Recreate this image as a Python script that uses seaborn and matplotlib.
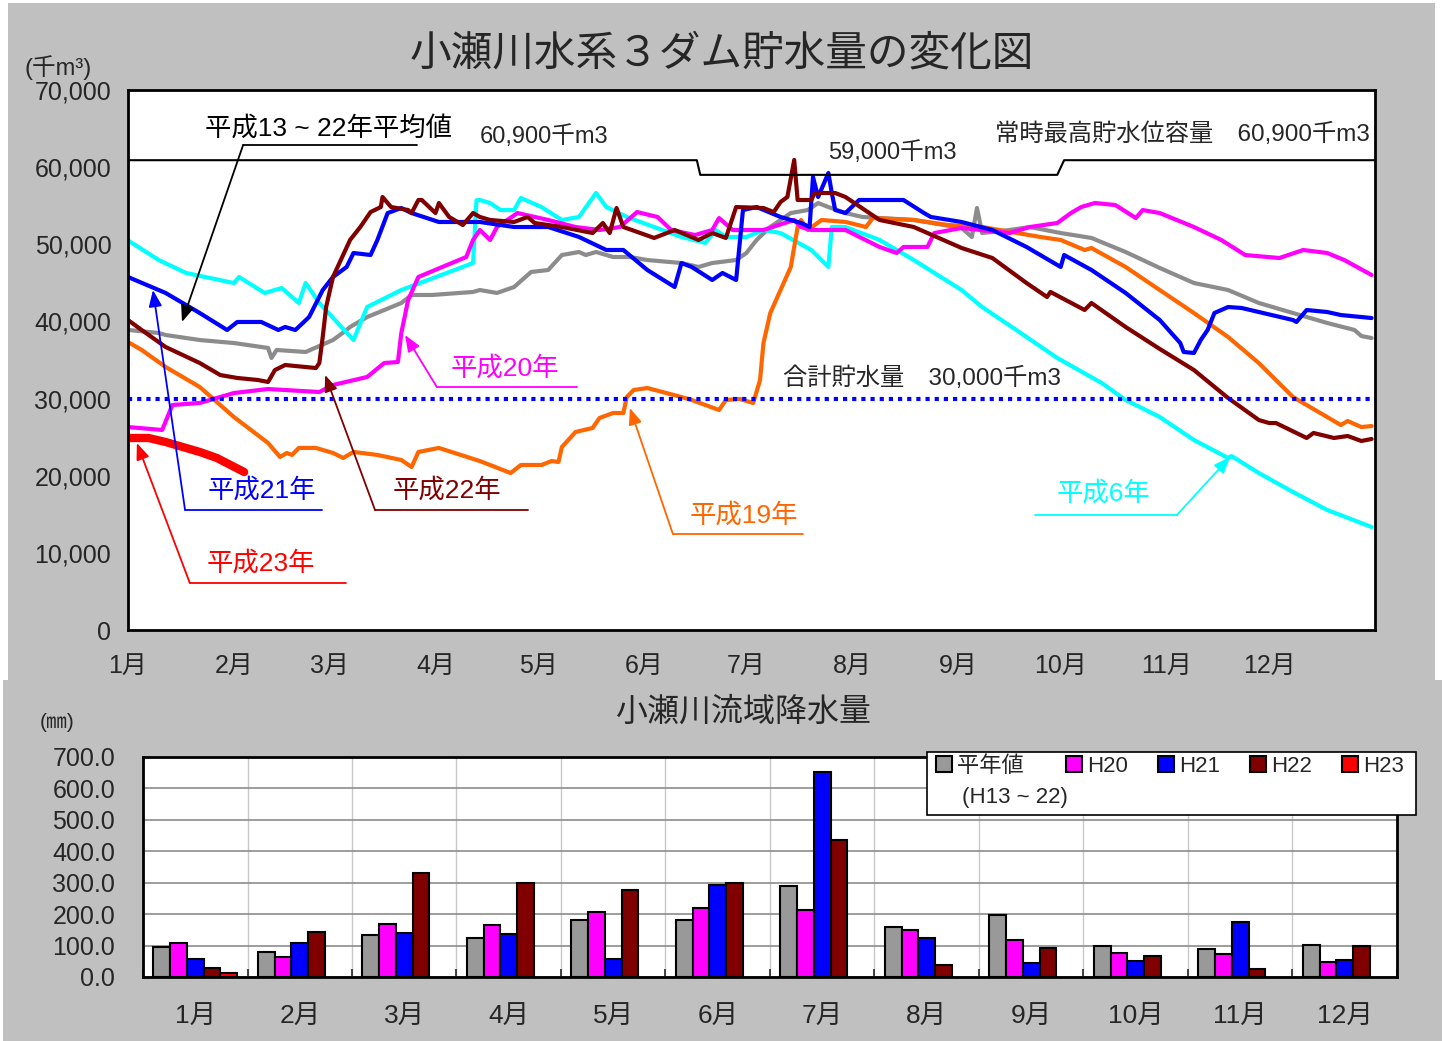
import matplotlib
matplotlib.use("Agg")
import matplotlib.pyplot as plt
from matplotlib.patches import Rectangle
from matplotlib.lines import Line2D
import numpy as np
import pandas as pd
import seaborn as sns

# ---- 貯水量 (千m3) : 日数(1/1=0) と 値 ----
h6_days = [0, 9, 17, 31, 32.5, 40, 45, 50, 52, 56, 66, 70, 80, 101, 102, 103, 106, 109, 113, 115,
           121, 127, 132, 137, 140, 146, 154, 162, 169, 172, 175, 181, 186, 191, 200, 205, 206, 210,
           220, 230, 244, 250, 260, 272, 285, 292, 302, 312, 322, 323, 331, 341, 351, 364]
h6_vals = [50500, 47960, 46280, 44980, 45760, 43690, 44330, 42390, 44980, 42390, 37590, 41870, 44070,
           47570, 55700, 55740, 55350, 54440, 54440, 56000, 54830, 53150, 53540, 56650, 54830, 53540,
           52240, 50950, 50170, 51850, 50950, 50950, 51850, 51460, 49260, 47060, 52240, 52240, 50560,
           47960, 44070, 41870, 38890, 35260, 32020, 29815, 27610, 24630, 22300, 22550, 20350, 17890,
           15560, 13350]

h19_days = [0, 4, 11, 21, 31, 41, 44.5, 46.5, 48, 50, 55, 60, 63, 66, 73, 80, 83, 85, 91, 103,
            112, 115, 121, 124, 126, 127, 131, 136, 138, 142, 145, 146, 148, 152, 162, 165, 173, 175,
            179, 183, 185, 186, 188, 191, 194, 196, 197, 199, 203, 210, 216, 218, 230, 240, 250, 267,
            273, 280, 282, 292, 302, 312, 322, 331, 341, 355, 357, 361, 364]
h19_vals = [37330, 36300, 34100, 31500, 27610, 24240, 22430, 22950, 22690, 23600, 23600, 22950, 22300,
            23080, 22690, 22040, 21130, 23080, 23600, 21900, 20350, 21390, 21390, 21900, 21780, 23720,
            25670, 26190, 27480, 28130, 28130, 30200, 31110, 31370, 30200, 29815, 28520, 29815, 29950,
            29430, 32400, 37200, 41090, 44070, 47060, 52240, 53150, 51850, 53150, 52900, 52240, 53400,
            53150, 52500, 52240, 50950, 50560, 49260, 49520, 47060, 44070, 41090, 37980, 34600, 30200,
            26570, 27090, 26310, 26440]

h20_days = [0, 10, 13, 21, 31, 41, 56, 60, 70, 75, 79, 80, 82, 85, 92, 99, 101, 103, 106, 108,
            114, 123, 131, 138, 144, 149, 155, 159, 166, 171, 173, 177, 181, 186, 195, 197, 200, 210,
            220, 225, 227, 234, 236, 244, 258, 264, 272, 276, 279, 283, 289, 295, 297, 302, 312, 320,
            327, 337, 344, 351, 356, 364]
h20_vals = [26310, 25930, 29170, 29430, 30720, 31240, 30850, 31760, 32800, 34610, 34740, 38500, 42780,
            45760, 47060, 48350, 50560, 51850, 50560, 52240, 54050, 53150, 52240, 51850, 52240, 54180,
            53540, 51850, 51200, 51850, 53400, 51850, 51850, 51850, 53150, 52240, 51850, 51850, 49650,
            48870, 49650, 49650, 51460, 52110, 51460, 52240, 52760, 54050, 54830, 55350, 55090, 53400,
            54440, 54050, 52240, 50560, 48610, 48220, 49260, 48870, 47960, 46020]

h21_days = [0, 11, 21, 29, 32, 39, 44, 46, 49, 53, 57, 60, 64, 66, 71, 73, 76, 80, 83, 91,
            103, 113, 123, 132, 140, 145, 152, 160, 162, 165, 171, 174, 178, 180, 184, 191, 197, 199.5,
            200.5, 202, 205, 206, 207, 210, 214, 220, 227, 233, 235, 244, 253, 263, 273, 274, 282, 292,
            302, 308, 309, 312, 314, 316, 318, 322, 326, 341, 342, 345, 351, 355, 364]
h21_vals = [45760, 43690, 41090, 38890, 39930, 39930, 38890, 39280, 38890, 40570, 44070, 45760, 47060,
            48870, 48610, 50560, 54050, 54700, 54050, 52890, 52890, 52240, 52240, 50950, 49260, 49260,
            46670, 44460, 47570, 47060, 45370, 46280, 45370, 54440, 54830, 53540, 52760, 52240, 58720,
            56130, 59240, 56650, 54440, 54050, 55740, 55740, 55740, 54050, 53540, 52890, 51850, 49650,
            47060, 48610, 46670, 43690, 40180, 37200, 36040, 35910, 37590, 38890, 41090, 41870, 41740,
            40180, 39930, 41480, 41220, 40830, 40440]

h22_days = [0, 4, 11, 21, 27, 32, 38, 41, 43, 46, 55, 56, 57, 58, 60, 65, 68, 71, 74, 74.5,
            77, 82, 83, 85, 86, 90, 91, 94, 98, 101, 103, 106, 113, 117, 119, 127, 136, 139, 141, 143,
            145, 154, 160, 167, 171, 175, 178, 186, 189, 191, 193, 195, 196, 200, 201, 207, 210, 220,
            230, 244, 253, 263, 269, 270, 280, 282, 292, 302, 312, 322, 331, 334, 336, 345, 347, 353,
            357, 361, 364]
h22_vals = [40180, 38890, 36690, 34610, 33050, 32670, 32410, 32150, 33700, 34350, 33960, 34600, 38000,
            41870, 45760, 50560, 52240, 54180, 54830, 56130, 54830, 54440, 54050, 55740, 55740, 54050,
            55350, 53540, 52500, 54050, 53540, 53150, 52890, 53540, 52760, 52240, 51460, 52760, 51460,
            54700, 52240, 50820, 51850, 50560, 51460, 50820, 54830, 54700, 54180, 55480, 56130, 60930,
            55740, 55740, 56650, 56650, 56130, 53150, 52240, 49520, 48220, 44980, 43170, 43820, 41480,
            42390, 39280, 36430, 33700, 30070, 27220, 26830, 26830, 24890, 25540, 24890, 25150, 24500,
            24760]

avg_days = [0, 9, 11, 21, 31, 41, 42, 43.5, 52, 60, 64, 65, 70, 80, 83, 89, 101, 103, 108, 113,
            118, 123, 127, 132, 134, 137, 142, 147, 152, 162, 167, 171, 178, 181, 184, 188, 194, 199,
            202, 205, 210, 215, 230, 244, 247, 248.5, 250, 258, 264, 273, 282, 292, 302, 312, 322, 331,
            341, 351, 359, 361, 364]
avg_vals = [38900, 38500, 38240, 37590, 37200, 36560, 35260, 36300, 36040, 37590, 38890, 39280, 40570,
            42390, 43430, 43430, 43820, 44070, 43690, 44460, 46410, 46670, 48610, 49000, 48610, 49000,
            48350, 48350, 47960, 47570, 47060, 47570, 47960, 48870, 50560, 52240, 54050, 54440, 55350,
            54830, 54050, 53540, 53150, 52110, 50950, 54700, 51460, 51850, 52240, 51460, 50820, 49000,
            46930, 44980, 44070, 42390, 41090, 39800, 38890, 38110, 37850]

h23_days = [0, 6, 11, 21, 26, 34]
h23_vals = [24890, 24890, 24370, 23080, 22300, 20480]

# 常時最高貯水位容量 / 制限
cap_days = [0, 166.5, 167.5, 272, 274, 365]
cap_vals = [60900, 60900, 59000, 59000, 60900, 60900]
total_line = 30000

month_starts = [0, 31, 59, 90, 120, 151, 181, 212, 243, 273, 304, 334]
months = [f"{m}月" for m in range(1, 13)]

# ---- 降水量 (mm) ----
rain_avg = [96, 81, 133, 124, 182, 182, 291, 160, 198, 98, 89, 102]
rain_h20 = [107, 64, 168, 164, 207, 220, 212, 148, 117, 76, 73, 49]
rain_h21 = [58, 108, 139, 136, 56, 293, 652, 124, 46, 51, 176, 53]
rain_h22 = [30, 143, 330, 298, 276, 298, 436, 39, 92, 68, 25, 98]
rain_h23 = [14] + [np.nan] * 11
rain_series = ["平年値", "H20", "H21", "H22", "H23"]
rain_colors = ["#999999", "#FF00FF", "#0000FF", "#800000", "#FF0000"]

sns.set_style("white")
plt.rcParams["font.family"] = ["Liberation Sans", "Noto Sans CJK JP"]

W, H = 1442, 1041
fig = plt.figure(figsize=(W / 100, H / 100), dpi=100)

def fx(px):
    return px / W

def fy(py):
    return 1 - py / H

# 背景
fig.patches.append(Rectangle((fx(8), fy(680)), fx(1427), 677 / H, transform=fig.transFigure,
                             facecolor="#C0C0C0", edgecolor="none", zorder=-10))
fig.patches.append(Rectangle((fx(3), 0), fx(1439), 361 / H, transform=fig.transFigure,
                             facecolor="#C0C0C0", edgecolor="none", zorder=-10))

# ================= 上段 =================
ax = fig.add_axes([fx(128), fy(630), fx(1247), 540 / H])
ax.set_facecolor("white")

series = [(avg_days, avg_vals, "#8C8C8C", 3),
          (h6_days, h6_vals, "#00FFFF", 3),
          (h19_days, h19_vals, "#FF6600", 3),
          (h20_days, h20_vals, "#FF00FF", 3),
          (h21_days, h21_vals, "#0000FF", 3),
          (h22_days, h22_vals, "#800000", 3),
          (h23_days, h23_vals, "#FF0000", 6)]
for d, v, c, lw in series:
    sns.lineplot(x=d, y=v, ax=ax, color=c, linewidth=lw, estimator=None, sort=False)

ax.plot(cap_days, cap_vals, color="black", lw=1.5)
ax.axhline(total_line, color="#0000FF", lw=3, linestyle=(0, (1, 1.2)))

ax.set_xlim(0, 365)
ax.set_ylim(0, 70000)
ax.set_xticks(month_starts)
ax.set_xticklabels(months)
ax.set_yticks(range(0, 70001, 10000))
ax.set_yticklabels([f"{v:,}" for v in range(0, 70001, 10000)])
ax.tick_params(axis="both", direction="in", length=7, width=1.2, labelsize=18, pad=12)
ax.tick_params(axis="x", pad=17)
ax.set_xlabel("")
ax.set_ylabel("")
for s in ax.spines.values():
    s.set_color("black")
    s.set_linewidth(2)

ax.text(103, 63910, "60,900千m3", fontsize=17, va="center")
ax.text(204.9, 61830, "59,000千m3", fontsize=17, va="center")
ax.text(253.8, 64300, "常時最高貯水位容量　60,900千m3", fontsize=17.5, va="center", clip_on=False)
ax.text(191.7, 32670, "合計貯水量　30,000千m3", fontsize=17.5, va="center")


def callout(label, color, text_xy, ul, start, tip):
    ax.text(text_xy[0], text_xy[1], label, color=color, fontsize=19, va="center")
    ax.plot(ul[0], ul[1], color=color, lw=1.3)
    ax.annotate("", xy=tip, xytext=start,
                arrowprops=dict(arrowstyle="-|>,head_length=0.5,head_width=0.2", color=color,
                                lw=1.3, mutation_scale=20, shrinkA=0, shrinkB=0))


callout("平成13 ~ 22年平均値", "black", (22.5, 65000), ([33.7, 84.6], [62870, 62870]),
        (33.7, 62870), (15.8, 39930))
callout("平成20年", "#FF00FF", (94.3, 33960), ([90.4, 131.4], [31500, 31500]),
        (90.4, 31500), (81.1, 38240))
callout("平成21年", "#0000FF", (23.4, 18150), ([16.7, 56.8], [15560, 15560]),
        (16.7, 15560), (7.3, 44070))
callout("平成22年", "#800000", (77.6, 18150), ([72.3, 117.1], [15560, 15560]),
        (72.3, 15560), (57.7, 33060))
callout("平成23年", "#FF0000", (23.1, 8685), ([18.1, 63.8], [6090, 6090]),
        (18.1, 6090), (2.6, 24240))
callout("平成19年", "#FF6600", (164.5, 14910), ([159.5, 197.6], [12440, 12440]),
        (159.5, 12440), (146.9, 28780))
callout("平成6年", "#00FFFF", (271.9, 17760), ([265.5, 307], [14910, 14910]),
        (307, 14910), (322.6, 22430))

fig.text(fx(722), fy(55), "小瀬川水系３ダム貯水量の変化図", fontsize=30, ha="center", va="center")
fig.text(fx(25), fy(68), "(千m³)", fontsize=17, ha="left", va="center")

# ================= 下段 =================
ax2 = fig.add_axes([fx(143), fy(977), fx(1254), 220 / H])
ax2.set_facecolor("white")

rain = pd.DataFrame({
    "month": months * 5,
    "series": sum([[s] * 12 for s in rain_series], []),
    "mm": rain_avg + rain_h20 + rain_h21 + rain_h22 + rain_h23,
})
sns.barplot(data=rain, x="month", y="mm", hue="series", order=months, hue_order=rain_series,
            palette=rain_colors, saturation=1, edgecolor="black", linewidth=1.5, width=0.8,
            legend=False, ax=ax2)

ax2.set_ylim(0, 700)
ax2.set_xlim(-0.5, 11.5)
ax2.set_yticks(range(0, 701, 100))
ax2.set_yticklabels([f"{v:.1f}" for v in range(0, 701, 100)])
ax2.set_xticks(np.arange(-0.5, 12, 1), minor=True)
ax2.set_axisbelow(True)
ax2.grid(axis="y", which="major", color="#8C8C8C", lw=1.2)
ax2.grid(axis="x", which="minor", color="#C8C8C8", lw=1)
ax2.grid(axis="x", which="major", visible=False)
ax2.tick_params(axis="x", which="major", length=0, labelsize=19, pad=20)
ax2.tick_params(axis="x", which="minor", direction="in", length=6, width=1.2, bottom=True)
ax2.tick_params(axis="y", length=0, labelsize=18, pad=20)
ax2.set_xlabel("")
ax2.set_ylabel("")
for s in ax2.spines.values():
    s.set_color("black")
    s.set_linewidth(2)

fig.text(fx(743), fy(712), "小瀬川流域降水量", fontsize=23, ha="center", va="center")
fig.text(fx(40), fy(722), "(㎜)", fontsize=15, ha="left", va="center")

# 凡例
fig.patches.append(Rectangle((fx(927), fy(815)), fx(489), 63 / H, transform=fig.transFigure,
                             facecolor="white", edgecolor="black", lw=1.2, zorder=5))
handles = [Line2D([], [], marker="s", markersize=11, markerfacecolor=c, markeredgecolor="black",
                  markeredgewidth=1.5, linestyle="None") for c in rain_colors]
labels = ["平年値  ", "H20", "H21", "H22", "H23"]
leg = fig.legend(handles, labels, loc="upper left", bbox_to_anchor=(fx(936), fy(756)), ncol=5,
                 frameon=False, fontsize=16, handlelength=0.7, handletextpad=0.25,
                 columnspacing=1.35, borderaxespad=0, borderpad=0)
leg.set_zorder(6)
fig.text(fx(962), fy(797), "(H13 ~ 22)", fontsize=16, ha="left", va="center", zorder=6)

fig.savefig("out.png", dpi=100)
